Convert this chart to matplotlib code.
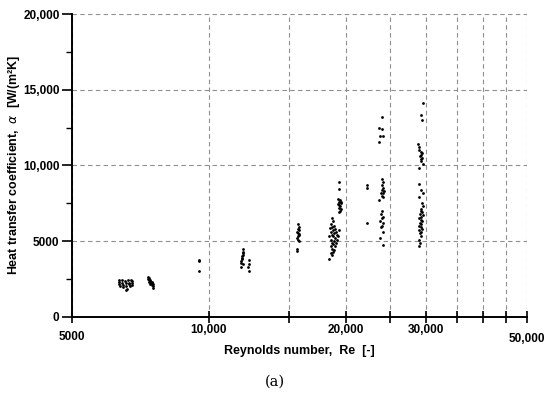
import matplotlib
matplotlib.use("Agg")
import matplotlib.pyplot as plt
from matplotlib.ticker import FixedLocator, FixedFormatter, NullLocator

# ---- data (Reynolds number, heat transfer coefficient) ----
re_c1 = [6350, 6350, 6350, 6380, 6450, 6450, 6470, 6480, 6550, 6560, 6570, 6600, 6580,
         6650, 6660, 6680, 6700, 6750, 6760, 6770, 6780]
al_c1 = [2450, 2300, 2150, 2050, 2400, 2250, 2100, 1950, 2350, 2200, 2050, 1850, 1750,
         2400, 2250, 2150, 2000, 2450, 2350, 2200, 2100]

re_c2 = [7330, 7350, 7370, 7390, 7410, 7430, 7450, 7480, 7510, 7530, 7550, 7430, 7380, 7490, 7530]
al_c2 = [2600, 2500, 2400, 2300, 2450, 2350, 2250, 2200, 2100, 2000, 1900, 2150, 2550, 2300, 2150]

re_c3 = [9500, 9500, 9500]
al_c3 = [3750, 3650, 3050]

re_c4 = [11900, 11880, 11860, 11850, 11830, 11810, 11800, 11780, 11760, 11750, 11850,
         12250, 12250, 12200, 12250]
al_c4 = [4450, 4300, 4200, 4100, 4000, 3900, 3800, 3700, 3550, 3300, 3450,
         3750, 3500, 3300, 3000]

re_c5 = [15700, 15750, 15700, 15650, 15700, 15750, 15700, 15650, 15700, 15750, 15600, 15650, 15800, 15800]
al_c5 = [6100, 5950, 5800, 5600, 5500, 5400, 5300, 5200, 5100, 5000, 4500, 4350, 5700, 5450]

re_c6 = [18600, 18700, 18500, 18800, 18600, 18900, 18700, 18500, 19000, 18800, 18600, 19100,
         18700, 18900, 18500, 18800, 18600, 19000, 18700, 18500, 18900, 18600, 18800, 18700,
         18500, 18600, 18400, 19200, 19100, 19300, 18400, 18450,
         19300, 19300, 19200, 19400, 19300, 19500, 19350, 19450, 19300, 19500, 19400, 19350,
         19550, 19250]
al_c6 = [6550, 6300, 6100, 6000, 5900, 5800, 5700, 5600, 5600, 5500, 5400, 5400,
         5300, 5200, 5100, 5000, 4900, 4900, 4800, 4700, 4700, 4500, 4400, 4300,
         4200, 4100, 3800, 5300, 5100, 5700, 5300, 5850,
         8900, 8450, 7800, 7700, 7600, 7500, 7400, 7300, 7200, 7100, 7000, 6900,
         7600, 7450]

re_c7 = [22300, 22300, 22300]
al_c7 = [8700, 8520, 6170]

re_c8 = [24000, 23700, 24000, 23800, 24100, 23700,
         24000, 24100, 24000, 24100, 24000, 24200, 24100, 23900, 24000, 24100, 23700,
         24000, 23900, 24100, 24000, 23800, 24100, 24000, 23900, 24100, 23800, 24100]
al_c8 = [13200, 12500, 12400, 11950, 11950, 11550,
         9100, 8900, 8700, 8500, 8400, 8300, 8200, 8150, 8000, 7900, 7700,
         7000, 6800, 6600, 6500, 6300, 6200, 6000, 5900, 5600, 5200, 4750]

re_c9 = [29500, 29300, 29400,
         28800, 28900, 29000, 29200, 29300, 29100, 29400, 29300, 29500, 29200, 28900, 29400,
         29000, 29300, 29600, 29000,
         29400, 29500, 29200, 29300, 29400, 29100, 29500, 29300, 29000, 29200, 29400, 29100,
         29300, 28900, 29200, 29400, 29000, 29300, 29100, 29200, 29000, 29100, 29000]
al_c9 = [14100, 13300, 13000,
         11400, 11200, 11000, 10900, 10700, 10600, 10500, 10300, 10100, 10400, 9850, 10800,
         8800, 8400, 8200, 7900,
         7500, 7300, 7100, 7000, 6900, 6800, 6700, 6600, 6500, 6400, 6300, 6200,
         6100, 6000, 5900, 5800, 5700, 5600, 5500, 5300, 5100, 4900, 4650]

x_ticks = [5000, 10000, 15000, 20000, 25000, 30000, 35000, 40000, 45000, 50000]
x_labels = ["5000", "10,000", "", "20,000", "", "30,000", "", "", "", "50,000"]
y_ticks = [0, 5000, 10000, 15000, 20000]
y_labels = ["0", "5000", "10,000", "15,000", "20,000"]
y_minor = [2500, 7500, 12500, 17500]

re_all = re_c1 + re_c2 + re_c3 + re_c4 + re_c5 + re_c6 + re_c7 + re_c8 + re_c9
al_all = al_c1 + al_c2 + al_c3 + al_c4 + al_c5 + al_c6 + al_c7 + al_c8 + al_c9

plt.rcParams['font.family'] = ['Liberation Sans', 'DejaVu Sans']

fig = plt.figure(figsize=(5.5, 3.95), dpi=100)
ax = fig.add_axes([72/550, 1-316.7/395, (527-72)/550, (316.7-14)/395])

ax.scatter(re_all, al_all, s=4, c='black', linewidths=0, zorder=3)

ax.set_xscale('log')
ax.set_xlim(5000, 50000)
ax.set_ylim(0, 20000)

ax.xaxis.set_major_locator(FixedLocator(x_ticks))
ax.xaxis.set_major_formatter(FixedFormatter(x_labels))
ax.xaxis.set_minor_locator(NullLocator())
ax.yaxis.set_major_locator(FixedLocator(y_ticks))
ax.yaxis.set_major_formatter(FixedFormatter(y_labels))
ax.yaxis.set_minor_locator(FixedLocator(y_minor))

for s in ['top', 'right']:
    ax.spines[s].set_visible(False)
for s in ['left', 'bottom']:
    ax.spines[s].set_linewidth(1.4)
    ax.spines[s].set_color('black')

ax.grid(True, which='major', color='#8f8f8f', linestyle=(0, (4, 3)), linewidth=0.8)
ax.set_axisbelow(True)

ax.tick_params(axis='x', which='major', direction='inout', length=8, width=1.2,
               labelsize=8.5, pad=1)
ax.tick_params(axis='y', which='major', direction='out', length=7, width=1.2,
               labelsize=8.5, pad=2)
ax.tick_params(axis='y', which='minor', direction='out', length=4, width=1.0)
for lab in ax.get_xticklabels() + ax.get_yticklabels():
    lab.set_fontweight('bold')

xt = ax.xaxis.get_major_ticks()
xt[0].set_pad(6)
xt[-1].set_pad(8)

ax.set_xlabel("Reynolds number,  Re  [-]", fontsize=9, fontweight='bold')
ax.xaxis.set_label_coords(0.5, -0.095)
ax.set_ylabel("Heat transfer coefficient,  $\\alpha$  [W/(m²K]", fontsize=8.9,
              fontweight='bold')
ax.yaxis.set_label_coords(-0.11, 0.5)

fig.text(0.5, 1-382/395, "(a)", ha='center', va='center', fontsize=10.5,
         family='DejaVu Serif')

fig.savefig("out.png", dpi=100)
